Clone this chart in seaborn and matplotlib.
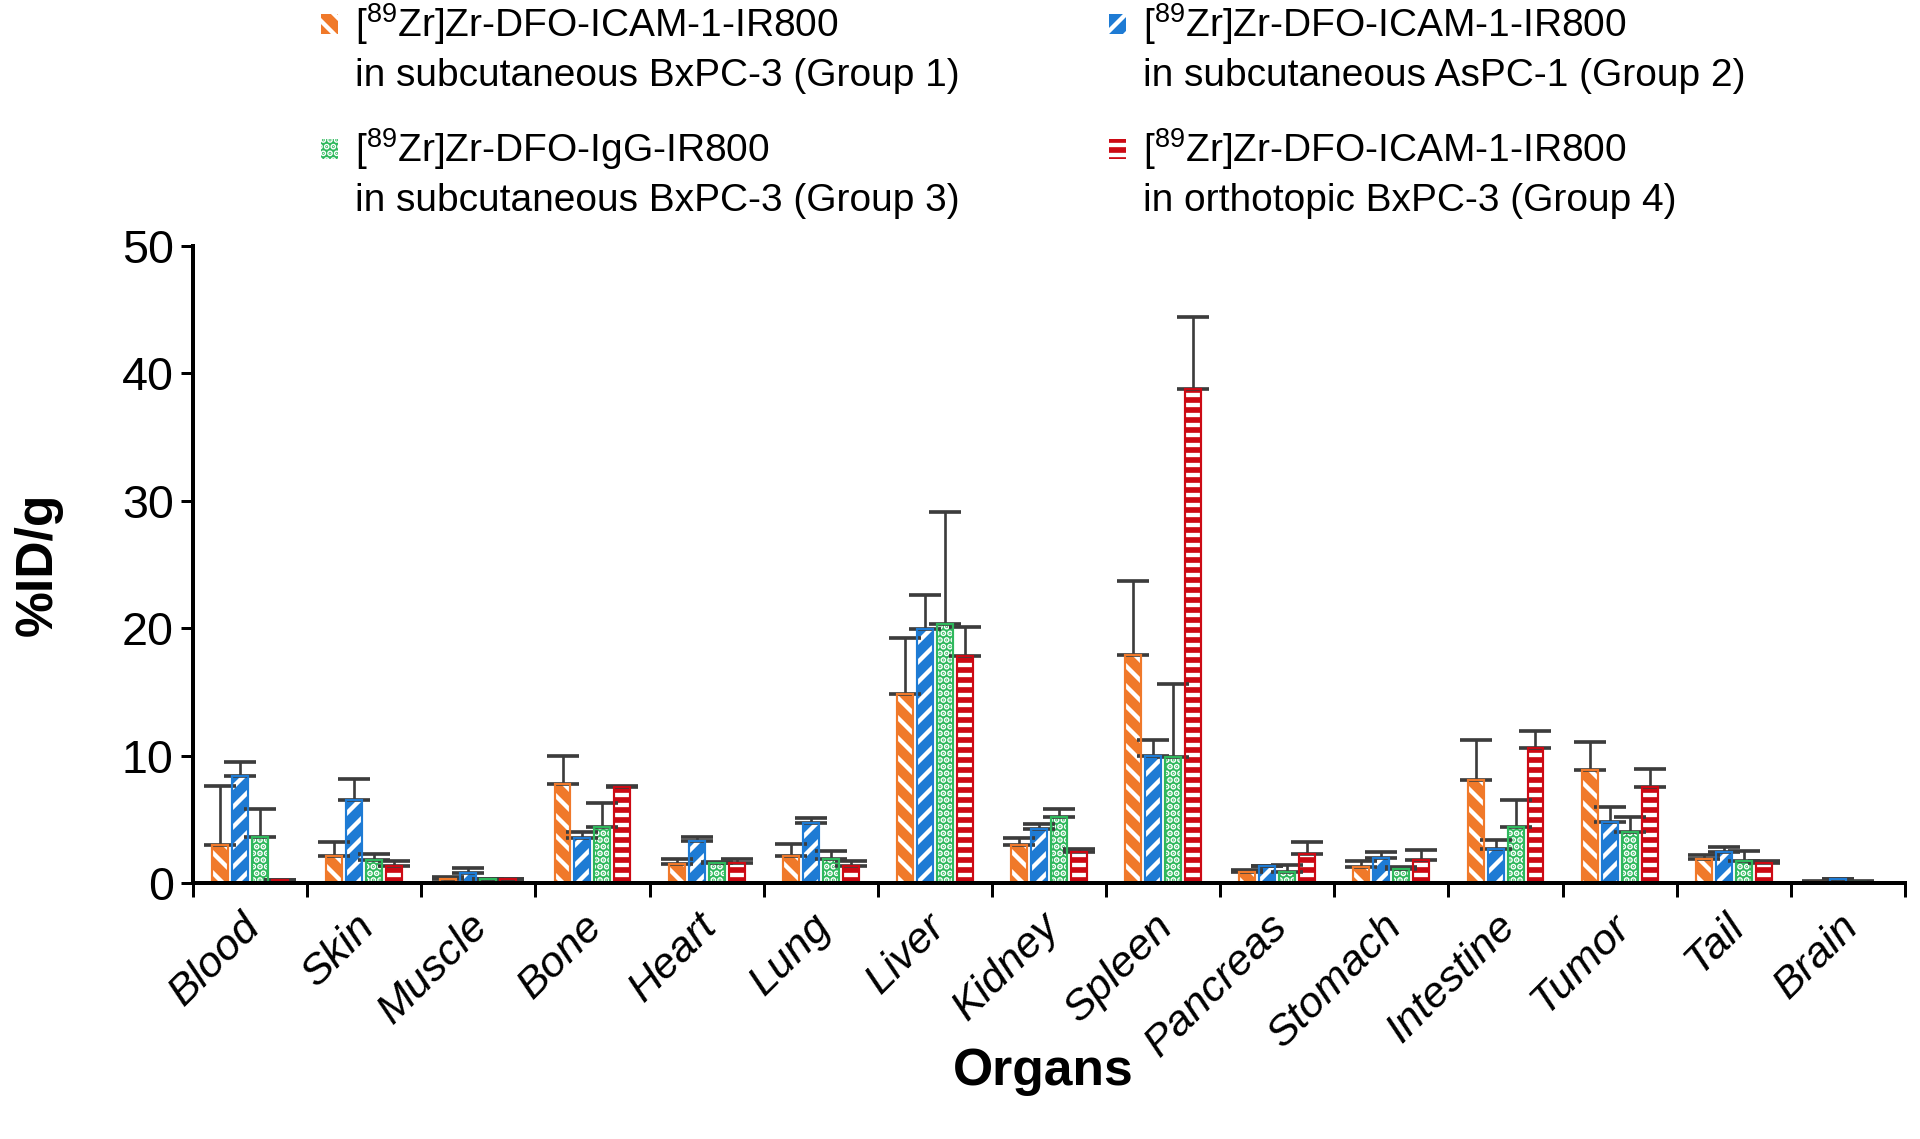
import numpy as np
import pandas as pd
import matplotlib
matplotlib.use("Agg")
import matplotlib.pyplot as plt
import matplotlib.transforms as mtransforms
from matplotlib.patches import Rectangle
import seaborn as sns

# ---- data (%ID/g, mean and upper SD) ----
organs = ["Blood", "Skin", "Muscle", "Bone", "Heart", "Lung", "Liver", "Kidney",
          "Spleen", "Pancreas", "Stomach", "Intestine", "Tumor", "Tail", "Brain"]
groups = ["Group 1", "Group 2", "Group 3", "Group 4"]

g1_mean = [3.0, 2.1, 0.3, 7.8, 1.5, 2.1, 14.8, 3.0, 17.9, 0.9, 1.25, 8.1, 8.9, 1.9, 0.1]
g1_sd = [4.6, 1.1, 0.15, 2.2, 0.4, 1.0, 4.4, 0.5, 5.8, 0.13, 0.45, 3.1, 2.2, 0.3, 0.02]
g2_mean = [8.4, 6.5, 0.8, 3.5, 3.3, 4.7, 19.9, 4.2, 10.0, 1.3, 2.0, 2.7, 4.8, 2.4, 0.3]
g2_sd = [1.1, 1.7, 0.4, 0.5, 0.3, 0.4, 2.7, 0.4, 1.2, 0.05, 0.4, 0.7, 1.2, 0.4, 0.05]
g3_mean = [3.6, 1.8, 0.3, 4.4, 1.6, 1.9, 20.3, 5.2, 9.9, 0.9, 1.1, 4.4, 4.0, 1.75, 0.1]
g3_sd = [2.2, 0.5, 0.05, 1.9, 0.05, 0.6, 8.8, 0.6, 5.7, 0.5, 0.15, 2.1, 1.2, 0.75, 0.02]
g4_mean = [0.2, 1.3, 0.3, 7.5, 1.55, 1.35, 17.8, 2.4, 38.8, 2.3, 1.8, 10.6, 7.5, 1.6, 0.0]
g4_sd = [0.05, 0.4, 0.05, 0.1, 0.35, 0.35, 2.3, 0.3, 5.6, 0.9, 0.8, 1.3, 1.45, 0.1, 0.0]

legend_line1 = ["[$^{89}$Zr]Zr-DFO-ICAM-1-IR800", "[$^{89}$Zr]Zr-DFO-ICAM-1-IR800",
                "[$^{89}$Zr]Zr-DFO-IgG-IR800", "[$^{89}$Zr]Zr-DFO-ICAM-1-IR800"]
legend_line2 = ["in subcutaneous BxPC-3 (Group 1)", "in subcutaneous AsPC-1 (Group 2)",
                "in subcutaneous BxPC-3 (Group 3)", "in orthotopic BxPC-3 (Group 4)"]

colors = ["#F0792A", "#1E7BD4", "#2EB85C", "#CC0A14"]
hatches = ["\\\\", "//", "...", "--"]

means = [g1_mean, g2_mean, g3_mean, g4_mean]
sds = [g1_sd, g2_sd, g3_sd, g4_sd]

df = pd.DataFrame({
    "organ": np.tile(organs, len(groups)),
    "group": np.repeat(groups, len(organs)),
    "value": np.concatenate(means),
})

# ---- style ----
sns.set_style("ticks")
plt.rcParams["font.family"] = ["Liberation Sans", "DejaVu Sans"]
plt.rcParams["mathtext.default"] = "regular"
plt.rcParams["hatch.linewidth"] = 2.6
for key in ["text.color", "axes.labelcolor", "xtick.color", "ytick.color", "axes.edgecolor"]:
    plt.rcParams[key] = "black"

W, H, DPI = 1920, 1139, 120
fig = plt.figure(figsize=(W / DPI, H / DPI), dpi=DPI)
ax = fig.add_axes([193 / W, 1 - 883 / H, (1905 - 193) / W, (883 - 246) / H])

sns.barplot(data=df, x="organ", y="value", hue="group", palette=colors,
            width=0.7, gap=0.2, errorbar=None, saturation=1, legend=False, ax=ax)

# hatched bars: white hatch lines, coloured outline, upper-only error bars
for cont, col, hat, mu, sd in zip(ax.containers, colors, hatches, means, sds):
    xs = []
    for bar in cont:
        bar.set_hatch(hat)
        bar.set_edgecolor("white")
        bar.set_linewidth(0)
        ax.add_patch(Rectangle(bar.get_xy(), bar.get_width(), bar.get_height(),
                               fill=False, edgecolor=col, lw=1.3, zorder=bar.get_zorder() + 0.1))
        xs.append(bar.get_x() + bar.get_width() / 2)
    ax.errorbar(xs, mu, yerr=[np.zeros(len(sd)), sd], fmt="none", ecolor="#3c3c3c",
                elinewidth=1.6, capsize=9.5, capthick=2.2, zorder=1)

ax.set_xlim(-0.5, len(organs) - 0.5)
ax.set_ylim(0, 50)
ax.set_yticks(range(0, 51, 10))
ax.set_xticks(np.arange(-0.5, len(organs), 1.0), minor=True)
sns.despine(ax=ax)
for side in ["left", "bottom"]:
    ax.spines[side].set_linewidth(2.4)
ax.tick_params(axis="y", which="major", length=7.5, width=1.8, labelsize=28, pad=4)
ax.tick_params(axis="x", which="major", length=0, pad=14)
ax.tick_params(axis="x", which="minor", length=8.5, width=1.8)
ax.set_xticks(range(len(organs)))
ax.set_xticklabels(organs, rotation=45, ha="right", rotation_mode="anchor",
                   fontsize=26, style="italic")
shift = mtransforms.ScaledTranslation(-6 / 72, 0, fig.dpi_scale_trans)
for lab in ax.get_xticklabels():
    lab.set_transform(lab.get_transform() + shift)

ax.set_xlabel("Organs", fontsize=31, fontweight="bold")
ax.set_ylabel("%ID/g", fontsize=31, fontweight="bold")
ax.xaxis.set_label_coords(0.4965, -0.258)
ax.yaxis.set_label_coords(-0.076, 0.5)

# ---- legend (two columns, marker aligned with the first line) ----
col_x = [321, 1109]
row_y = [24, 149]
for i in range(len(groups)):
    x0 = col_x[i % 2]
    y0 = row_y[i // 2]
    fig.add_artist(Rectangle((x0 / W, 1 - (y0 + 10) / H), 17 / W, 20 / H,
                             transform=fig.transFigure, facecolor=colors[i],
                             edgecolor="white", hatch=hatches[i], lw=0))
    fig.text((x0 + 34) / W, 1 - y0 / H, legend_line1[i], fontsize=23.3, va="center")
    fig.text((x0 + 34) / W, 1 - (y0 + 52) / H, legend_line2[i], fontsize=23.3, va="center")

fig.savefig("out.png", dpi=DPI)
